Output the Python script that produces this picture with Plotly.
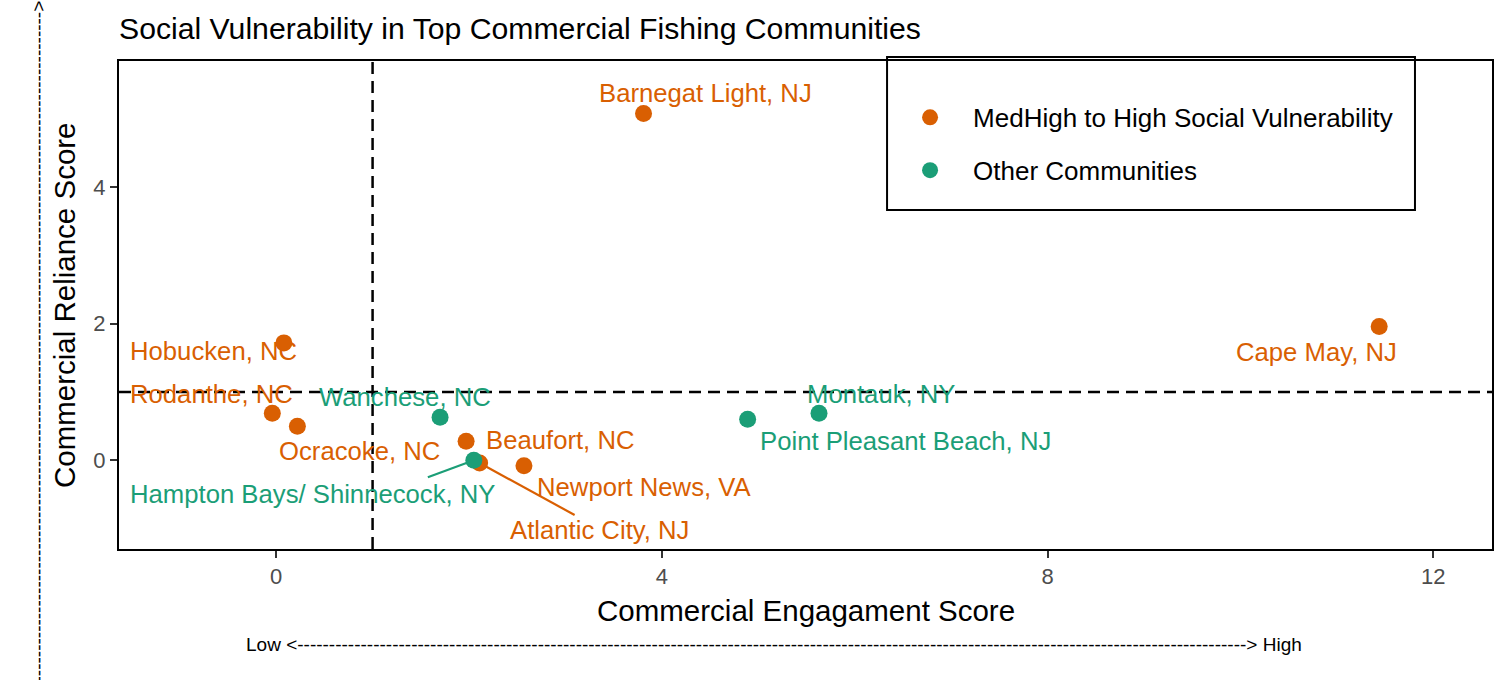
import plotly.graph_objects as go

# ---------------- data ----------------
communities = ["Barnegat Light, NJ", "Cape May, NJ", "Hobucken, NC", "Rodanthe, NC",
               "Ocracoke, NC", "Wanchese, NC", "Beaufort, NC", "Hampton Bays/ Shinnecock, NY",
               "Atlantic City, NJ", "Newport News, VA", "Point Pleasant Beach, NJ", "Montauk, NY"]
engagement = [3.81, 11.44, 0.08, -0.04, 0.22, 1.70, 1.97, 2.05, 2.11, 2.57, 4.89, 5.63]
reliance = [5.08, 1.96, 1.72, 0.69, 0.50, 0.63, 0.28, 0.00, -0.04, -0.08, 0.60, 0.69]
HIGH = "MedHigh to High Social Vulnerability"
OTHER = "Other Communities"
group = [HIGH, HIGH, HIGH, HIGH, HIGH, OTHER, HIGH, OTHER, HIGH, HIGH, OTHER, OTHER]
x_ticks = [0, 4, 8, 12]
y_ticks = [0, 2, 4]
threshold_x = 1
threshold_y = 1

# ---------------- styling ----------------
colors = {HIGH: "#D95F02", OTHER: "#1B9E77"}
FONT = "Liberation Sans, Arial, Helvetica, sans-serif"
# label offsets in pixels (dx right, dy down) relative to each point
label_offsets = [(62, -21), (-63, 25), (-70, 8), (-61, -19), (62, 25), (-35, -20),
                 (94, -1), (-161, 34), (120, 67), (121, 21), (158, 22), (62, -19)]
# leader segment ends (pixels) for labels that were pushed far away
segments = {7: (-46, 17), 8: (95, 52)}

fig = go.Figure()
for g in [HIGH, OTHER]:
    idx = [i for i, gg in enumerate(group) if gg == g]
    fig.add_trace(go.Scatter(
        x=[engagement[i] for i in idx], y=[reliance[i] for i in idx],
        mode="markers", name=g, legendgroup=g,
        marker=dict(color=colors[g], size=17, line=dict(width=0)),
        hoverinfo="text", text=[communities[i] for i in idx],
    ))

annotations = []
shapes = []
for i, name in enumerate(communities):
    dx, dy = label_offsets[i]
    annotations.append(dict(
        x=engagement[i], y=reliance[i], xref="x", yref="y", text=name,
        showarrow=False, xshift=dx, yshift=-dy, xanchor="center", yanchor="middle",
        font=dict(family=FONT, size=25.7, color=colors[group[i]]),
    ))
for i, (sx, sy) in segments.items():
    shapes.append(dict(
        type="line", xref="x", yref="y", xsizemode="pixel", ysizemode="pixel",
        xanchor=engagement[i], yanchor=reliance[i], x0=0, y0=0, x1=sx, y1=-sy,
        line=dict(color=colors[group[i]], width=2.2), layer="below",
    ))

# threshold lines
shapes.append(dict(type="line", xref="x", yref="paper", x0=threshold_x, x1=threshold_x, y0=0, y1=1,
                   line=dict(color="black", width=2.5, dash="12px,7px"), layer="below"))
shapes.append(dict(type="line", xref="paper", yref="y", x0=0, x1=1, y0=threshold_y, y1=threshold_y,
                   line=dict(color="black", width=2.5, dash="12px,7px"), layer="below"))

# legend box
shapes.append(dict(type="rect", xref="paper", yref="paper", x0=0.5594, x1=0.9439, y0=0.6947, y1=1.008,
                   line=dict(color="black", width=2), fillcolor="white", layer="below"))

dash_line = "-" * 150
annotations += [
    dict(text="Commercial Engagament Score", xref="paper", yref="paper", x=0.5, y=-0.127,
         showarrow=False, xanchor="center", yanchor="middle",
         font=dict(family=FONT, size=29.5, color="black")),
    dict(text="Commercial Reliance Score", xref="paper", yref="paper", x=-0.040, y=0.5,
         showarrow=False, xanchor="center", yanchor="middle", textangle=-90,
         font=dict(family=FONT, size=29.5, color="black")),
    dict(text="Low <" + dash_line + "> High", xref="paper", yref="paper", x=0.477, y=-0.195,
         showarrow=False, xanchor="center", yanchor="middle",
         font=dict(family=FONT, size=19, color="black")),
    dict(text="Low <" + dash_line + "> High", xref="paper", yref="paper", x=-0.059, y=1.219,
         showarrow=False, xanchor="center", yanchor="top", textangle=-90,
         font=dict(family=FONT, size=19, color="black")),
]

axis_common = dict(showgrid=False, zeroline=False, showline=True, mirror=True,
                   linecolor="black", linewidth=2, ticks="outside", ticklen=7, tickwidth=2,
                   tickcolor="#333333", tickfont=dict(family=FONT, size=22, color="#4D4D4D"))

fig.update_layout(
    width=1512, height=680,
    margin=dict(l=119, r=20, t=61, b=131),
    paper_bgcolor="white", plot_bgcolor="white",
    title=dict(text="Social Vulnerability in Top Commercial Fishing Communities",
               x=0, xref="paper", xanchor="left", y=1 - 28 / 680, yref="container",
               yanchor="middle", font=dict(family=FONT, size=30.2, color="black")),
    xaxis=dict(range=[-1.63, 12.61], tickvals=x_ticks, **axis_common),
    yaxis=dict(range=[-1.30, 5.85], tickvals=y_ticks, **axis_common),
    legend=dict(x=0.5594, y=0.9325, xanchor="left", yanchor="top", xref="paper", yref="paper",
                bgcolor="rgba(0,0,0,0)", borderwidth=0, itemwidth=76, tracegroupgap=16,
                font=dict(family=FONT, size=26, color="black")),
    shapes=shapes, annotations=annotations,
    showlegend=True,
)

fig.write_html("out.html")
